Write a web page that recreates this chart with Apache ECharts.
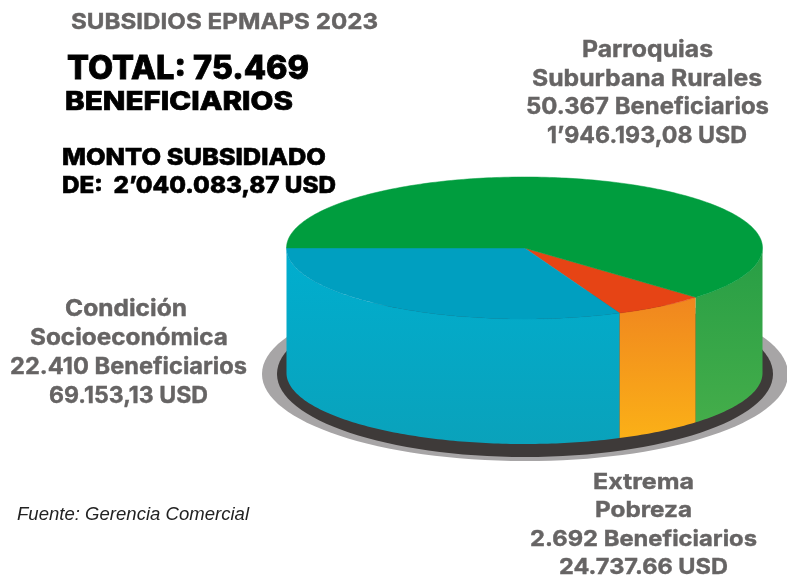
<!DOCTYPE html>
<html>
<head>
<meta charset="utf-8">
<title>Subsidios EPMAPS 2023</title>
<script src="https://cdn.jsdelivr.net/npm/echarts@6/dist/echarts.min.js"></script>
<style>
  html, body { margin: 0; padding: 0; background: #fff; }
  #chart { width: 787px; height: 575px; }
</style>
</head>
<body>
<div id="chart"></div>
<script>
// data
var categories = ['Extrema Pobreza', 'Condición Socioeconómica', 'Parroquias Suburbana Rurales'];
var beneficiaries = ['2.692', '22.410', '50.367'];
var amounts = ['24.737.66', '69.153,13', '1’946.193,08'];
// share of the ellipse each slice takes in the drawing (%), not the same as the beneficiaries' share
var drawnShares = [6.25, 31.55, 62.2];
var totalBeneficiaries = '75.469';
var totalAmount = '2’040.083,87';

// layout of the drum
var drum = { cx: 524.5, cy: 248, rx: 238, ry: 71, depth: 125, startDeg: 44 };
var plate = { cx: 525, cy: 374, rx: 248, ry: 83 };
var shadow = { cx: 525, cy: 374, rx: 263, ry: 87 };

var topColors = ['#e64415', '#009fc0', '#009d3e'];
var sideColors = [['#f0861f', '#fbb017'], ['#00aecf', '#0aa2bb'], ['#279e45', '#44ad4a']];

var grey = '#666464';
var sans = 'Inter';

var ctx = document.createElement('canvas').getContext('2d');

// one line of text stretched to the width it has in the original
function line(text, left, middle, width, size, weight, fill, heavy, family, style) {
  var font = (style ? style + ' ' : '') + weight + ' ' + size + 'px "' + (family || sans) + '"';
  ctx.font = font;
  return {
    type: 'text',
    z: 10,
    x: left,
    y: middle,
    scaleX: width / ctx.measureText(text).width,
    style: {
      text: text, font: font, fill: fill,
      stroke: heavy ? fill : null, lineWidth: heavy || 0,
      textAlign: 'left', textVerticalAlign: 'middle'
    }
  };
}

function ellipse(e, color, z) {
  return { type: 'ellipse', z: z, shape: { cx: e.cx, cy: e.cy, rx: e.rx, ry: e.ry }, style: { fill: color } };
}

function arc(from, to, dy) {
  var pts = [];
  var n = Math.max(2, Math.ceil(to - from));
  for (var i = 0; i <= n; i++) {
    var t = (from + (to - from) * i / n) * Math.PI / 180;
    pts.push([drum.cx + drum.rx * Math.cos(t), drum.cy + dy + drum.ry * Math.sin(t)]);
  }
  return pts;
}

function renderSlice(params, api) {
  var i = params.dataIndex;
  var before = 0;
  for (var k = 0; k < i; k++) before += drawnShares[k];
  var from = drum.startDeg + before * 3.6;
  var to = from + api.value(0) * 3.6;
  var children = [];

  // the wall only shows on the front half (0-180 deg, also 360-540 after wrapping)
  [[0, 180], [360, 540]].forEach(function (front) {
    var a = Math.max(from, front[0]);
    var b = Math.min(to, front[1]);
    if (b > a) {
      var wall = arc(a, b, 0).concat(arc(a, b, drum.depth).reverse());
      children.push({
        type: 'polygon',
        shape: { points: wall },
        style: {
          fill: new echarts.graphic.LinearGradient(0, 0, 0, 1, [
            { offset: 0, color: sideColors[i][0] },
            { offset: 1, color: sideColors[i][1] }
          ])
        }
      });
    }
  });

  var top = [[drum.cx, drum.cy]].concat(arc(from, to, 0));
  children.push({
    type: 'polygon',
    shape: { points: top },
    style: { fill: topColors[i], stroke: topColors[i], lineWidth: 0.5 }
  });
  return { type: 'group', children: children };
}

var texts = [
  line('SUBSIDIOS EPMAPS 2023', 71, 22, 307, 22, 700, grey, 0.4),
  line('TOTAL: ' + totalBeneficiaries, 67, 69, 242, 32, 800, '#000', 0.8),
  line('BENEFICIARIOS', 65, 102, 228, 26, 800, '#000', 0.7),
  line('MONTO SUBSIDIADO', 62, 158, 264, 23, 800, '#000', 0.6),
  line('DE:  ' + totalAmount + ' USD', 62, 186, 274, 23, 800, '#000', 0.6),

  line('Parroquias', 582, 50, 131, 23, 700, grey, 0.4),
  line('Suburbana Rurales', 532, 79, 230, 23, 700, grey, 0.4),
  line(beneficiaries[2] + ' Beneficiarios', 526, 107, 243, 23, 700, grey, 0.4),
  line(amounts[2] + ' USD', 547, 136, 200, 23, 700, grey, 0.4),

  line('Condición', 65, 309, 122, 23, 700, grey, 0.4),
  line('Socioeconómica', 30, 338, 198, 23, 700, grey, 0.4),
  line(beneficiaries[1] + ' Beneficiarios', 10, 367, 237, 23, 700, grey, 0.4),
  line(amounts[1] + ' USD', 49, 396, 159, 23, 700, grey, 0.4),

  line('Extrema', 593, 482, 101, 22, 700, grey, 0.4),
  line('Pobreza', 595, 510, 97, 22, 700, grey, 0.4),
  line(beneficiaries[0] + ' Beneficiarios', 530, 539, 227, 22, 700, grey, 0.4),
  line(amounts[0] + ' USD', 559, 567, 169, 22, 700, grey, 0.4),

  line('Fuente: Gerencia Comercial', 17, 515, 232, 18, 400, '#222', 0, 'Liberation Sans', 'italic')
];

var chart = echarts.init(document.getElementById('chart'), null, { renderer: 'canvas' });
chart.setOption({
  animation: false,
  backgroundColor: '#fff',
  graphic: {
    elements: [ellipse(shadow, '#a7a5a6', 0), ellipse(plate, '#3e3a39', 1)].concat(texts)
  },
  series: [{
    type: 'custom',
    name: 'Subsidios',
    coordinateSystem: 'none',
    z: 5,
    silent: true,
    renderItem: renderSlice,
    data: drawnShares.map(function (v, i) { return { name: categories[i], value: [v] }; })
  }]
});
</script>
</body>
</html>
